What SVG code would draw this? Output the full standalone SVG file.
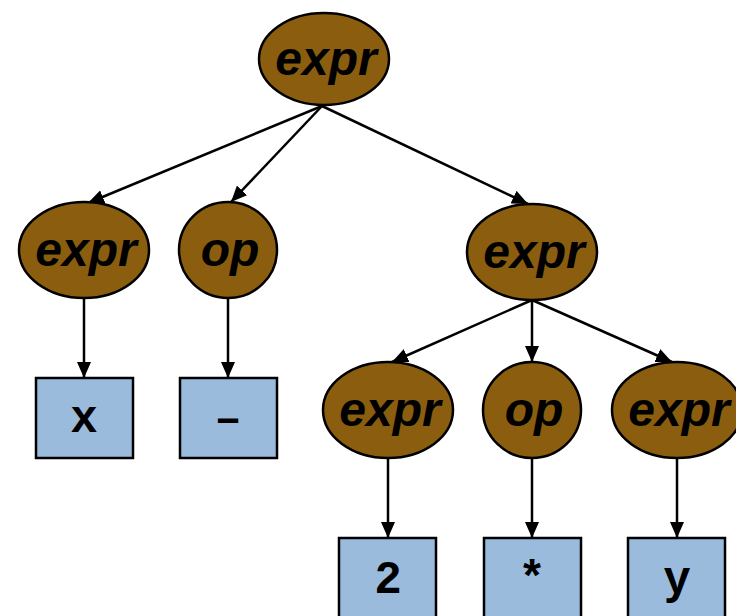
<svg xmlns="http://www.w3.org/2000/svg" width="736" height="616" viewBox="0 0 736 616">
<defs>
<marker id="ah" viewBox="0 0 16 14" refX="16" refY="7" markerWidth="16" markerHeight="14" markerUnits="userSpaceOnUse" orient="auto">
<path d="M0,0 L16,7 L0,14 Z" fill="#000"/>
</marker>
<style>
.nt ellipse{fill:#8B5E0F;stroke:#000;stroke-width:2.5}
.nt text{font-family:"Liberation Sans",Arial,sans-serif;font-weight:bold;font-style:italic;font-size:48px;text-anchor:middle;fill:#000}
.t rect{fill:#9BBBDD;stroke:#000;stroke-width:2.5}
.t text{font-family:"Liberation Mono","Courier New","DejaVu Sans Mono",monospace;font-weight:bold;font-size:46px;text-anchor:middle;fill:#000}
#edges line{stroke:#000;stroke-width:2.5;marker-end:url(#ah)}
</style>
</defs>
<rect width="736" height="616" fill="#fff"/>
<g id="edges">
<line x1="322" y1="106" x2="88" y2="203"/>
<line x1="322" y1="106" x2="231" y2="202"/>
<line x1="322" y1="106" x2="528" y2="204"/>
<line x1="84" y1="298" x2="84" y2="378"/>
<line x1="228" y1="298" x2="228" y2="378"/>
<line x1="532" y1="300" x2="392" y2="362"/>
<line x1="532" y1="300" x2="532" y2="362"/>
<line x1="532" y1="300" x2="672" y2="362"/>
<line x1="388" y1="458" x2="388" y2="538"/>
<line x1="532" y1="458" x2="532" y2="538"/>
<line x1="677" y1="458" x2="677" y2="538"/>
</g>
<g id="n_root" class="nt"><ellipse cx="324" cy="59" rx="65" ry="46"/><text x="326" y="75">expr</text></g>
<g id="n_expr1" class="nt"><ellipse cx="84" cy="250" rx="65" ry="48"/><text x="86" y="266">expr</text></g>
<g id="n_op1" class="nt"><ellipse cx="228" cy="250" rx="49" ry="48"/><text x="230" y="266">op</text></g>
<g id="n_expr2" class="nt"><ellipse cx="532" cy="252" rx="65" ry="48"/><text x="534" y="268">expr</text></g>
<g id="n_expr3" class="nt"><ellipse cx="388" cy="410" rx="65" ry="48"/><text x="390" y="426">expr</text></g>
<g id="n_op2" class="nt"><ellipse cx="532" cy="410" rx="49" ry="48"/><text x="534" y="426">op</text></g>
<g id="n_expr4" class="nt"><ellipse cx="677" cy="410" rx="65" ry="48"/><text x="679" y="426">expr</text></g>
<g id="t_x" class="t"><rect x="36" y="378" width="97" height="80"/><text x="84" y="432">x</text></g>
<g id="t_minus" class="t"><rect x="180" y="378" width="97" height="80"/><text x="228" y="432">–</text></g>
<g id="t_2" class="t"><rect x="339" y="538" width="97" height="80"/><text x="388" y="593">2</text></g>
<g id="t_star" class="t"><rect x="484" y="538" width="97" height="80"/><text x="532" y="593">*</text></g>
<g id="t_y" class="t"><rect x="628" y="538" width="97" height="80"/><text x="677" y="593">y</text></g>
</svg>
